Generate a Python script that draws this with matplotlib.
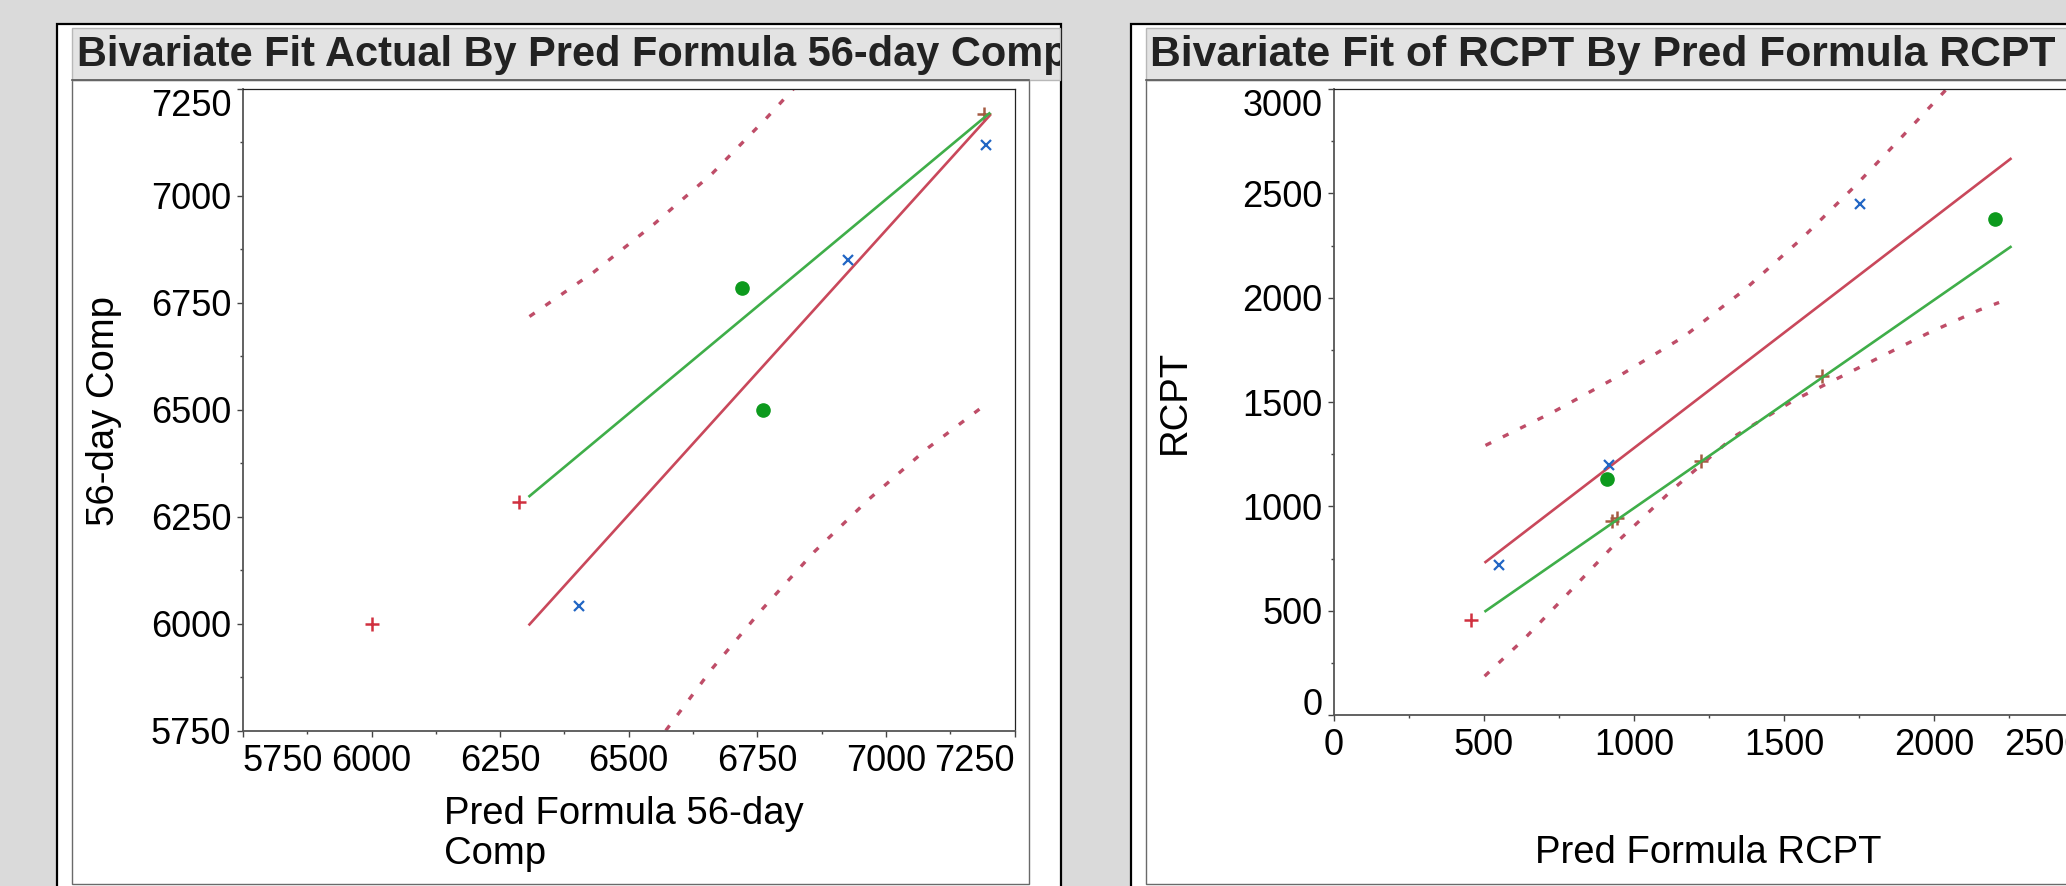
import matplotlib
matplotlib.use("Agg")
import matplotlib.pyplot as plt
from matplotlib.patches import Rectangle
from matplotlib.ticker import MultipleLocator

plt.rcParams["font.family"] = ["Liberation Sans", "DejaVu Sans"]

# ---- data ----
# left panel: 56-day Comp
comp_title = "Bivariate Fit Actual By Pred Formula 56-day Comp"
comp_ticks = [5750, 6000, 6250, 6500, 6750, 7000, 7250]
comp_plus_red_x = [6000, 6287]
comp_plus_red_y = [6000, 6285]
comp_plus_brown_x = [7190]
comp_plus_brown_y = [7192]
comp_cross_x = [6403, 6927, 7195]
comp_cross_y = [6040, 6850, 7119]
comp_dot_x = [6720, 6761]
comp_dot_y = [6785, 6499]
comp_diag_x = [6307, 7201]
comp_diag_y = [6298, 7193]
comp_fit_x = [6307, 7201]
comp_fit_y = [5998, 7187]
comp_upper_x = [6307, 6431, 6549, 6662, 6767, 6820]
comp_upper_y = [6718, 6821, 6934, 7052, 7181, 7250]
comp_lower_x = [6572, 6663, 6759, 6860, 6967, 7081, 7199]
comp_lower_y = [5750, 5896, 6033, 6167, 6291, 6410, 6517]

# right panel: RCPT
rcpt_title = "Bivariate Fit of RCPT By Pred Formula RCPT"
rcpt_xticks = [0, 500, 1000, 1500, 2000, 2500]
rcpt_yticks = [0, 500, 1000, 1500, 2000, 2500, 3000]
rcpt_plus_red_x = [456]
rcpt_plus_red_y = [455]
rcpt_plus_brown_x = [927, 944, 1222, 1625]
rcpt_plus_brown_y = [931, 942, 1219, 1624]
rcpt_cross_x = [549, 916, 1754]
rcpt_cross_y = [719, 1198, 2448]
rcpt_dot_x = [910, 2204]
rcpt_dot_y = [1129, 2377]
rcpt_diag_x = [505, 2255]
rcpt_diag_y = [498, 2243]
rcpt_fit_x = [505, 2255]
rcpt_fit_y = [733, 2665]
rcpt_upper_x = [505, 732, 955, 1166, 1367, 1556, 1734, 1867, 2034, 2042]
rcpt_upper_y = [1292, 1453, 1629, 1813, 2036, 2279, 2531, 2731, 2987, 3000]
rcpt_lower_x = [502, 633, 755, 944, 1133, 1333, 1534, 1756, 1979, 2151, 2217]
rcpt_lower_y = [186, 363, 545, 830, 1086, 1334, 1509, 1669, 1829, 1941, 1977]

# ---- styles ----
W, H = 2066, 886
RED = "#c9485b"
BAND = "#bf4d68"
GREEN = "#3fae49"
DOT = "#0d9a1d"
BLUE = "#2166c4"
PLUS_RED = "#d0303f"
PLUS_BROWN = "#a55a42"
FS = 27.5
TFS = 26

fig = plt.figure(figsize=(W / 100, H / 100), dpi=100, facecolor="#dadada")

# background "report" boxes drawn in pixel coordinates
bg = fig.add_axes([0, 0, 1, 1])
bg.set_xlim(0, W)
bg.set_ylim(H, 0)
bg.axis("off")


def rect(x0, y0, x1, y1, fc, ec, lw):
    r = Rectangle((x0, y0), x1 - x0, y1 - y0, fc=fc, ec=ec, lw=lw)
    bg.add_patch(r)
    return r


rect(57, 24, 1061, 950, "white", "black", 1.6)
rect(1131, 24, 2200, 950, "white", "black", 1.6)
rect(72, 80, 1029, 884, "white", "#6a6a6a", 1.0)
rect(1146, 80, 2200, 884, "white", "#6a6a6a", 1.0)
tl = rect(72, 28, 1060, 80, "#e3e3e3", "#b8b8b8", 1.0)
tr = rect(1146, 28, 2200, 80, "#e3e3e3", "#b8b8b8", 1.0)
bg.plot([72, 1029], [80, 80], color="#555555", lw=1.2)
bg.plot([1146, 2200], [80, 80], color="#555555", lw=1.2)

t = bg.text(77, 55, comp_title, fontsize=29.9, fontweight="bold", color="#222222",
            va="center", ha="left", clip_on=True)
t.set_clip_path(tl)
t = bg.text(1150, 55, rcpt_title, fontsize=30.7, fontweight="bold", color="#222222",
            va="center", ha="left", clip_on=True)
t.set_clip_path(tr)

bg.text(104, 411, "56-day Comp", fontsize=FS, rotation=90, ha="center", va="center")
bg.text(1175, 402, "RCPT", fontsize=FS, rotation=90, ha="center", va="center")
bg.text(624, 834, "Pred Formula 56-day\nComp", fontsize=FS, ha="center", va="center",
        multialignment="left", linespacing=1.12)
bg.text(1708, 853, "Pred Formula RCPT", fontsize=FS, ha="center", va="center")


def add_ax(x0, y0, x1, y1):
    return fig.add_axes([x0 / W, 1 - y1 / H, (x1 - x0) / W, (y1 - y0) / H])


def style(ax):
    for s in ["left", "bottom"]:
        ax.spines[s].set_color("#555555")
        ax.spines[s].set_linewidth(1.3)
    for s in ["top", "right"]:
        ax.spines[s].set_color("#222222")
        ax.spines[s].set_linewidth(0.9)
    ax.tick_params(which="major", direction="out", length=4.5, width=1, color="#444444",
                   labelsize=TFS)
    ax.tick_params(which="minor", direction="out", length=2.4, width=1, color="#444444")
    ax.tick_params(axis="x", pad=5)
    ax.tick_params(axis="y", pad=4)


def draw(ax, px_r, py_r, px_b, py_b, cx, cy, dx, dy, gx, gy, fx, fy, ux, uy, lx, ly):
    ax.plot(px_r, py_r, ls="none", marker="+", ms=9.5, mew=1.8, color=PLUS_RED, zorder=1.5)
    ax.plot(px_b, py_b, ls="none", marker="+", ms=9.5, mew=1.8, color=PLUS_BROWN, zorder=1.5)
    ax.plot(ux, uy, color=BAND, lw=2.4, ls=(0, (1.9, 3.9)), zorder=2)
    ax.plot(lx, ly, color=BAND, lw=2.4, ls=(0, (1.9, 3.9)), zorder=2)
    ax.plot(gx, gy, color=GREEN, lw=1.9, zorder=2.2)
    ax.plot(fx, fy, color=RED, lw=1.9, zorder=2.1)
    ax.plot(cx, cy, ls="none", marker="x", ms=7.5, mew=1.6, color=BLUE, zorder=3)
    ax.plot(dx, dy, ls="none", marker="o", ms=9.5, color=DOT, mec=DOT, zorder=3)


ax1 = add_ax(243, 89, 1014.5, 730.5)
style(ax1)
draw(ax1, comp_plus_red_x, comp_plus_red_y, comp_plus_brown_x, comp_plus_brown_y,
     comp_cross_x, comp_cross_y, comp_dot_x, comp_dot_y, comp_diag_x, comp_diag_y,
     comp_fit_x, comp_fit_y, comp_upper_x, comp_upper_y, comp_lower_x, comp_lower_y)
ax1.set_xlim(comp_ticks[0], comp_ticks[-1])
ax1.set_ylim(comp_ticks[0], comp_ticks[-1])
ax1.set_xticks(comp_ticks)
ax1.set_yticks(comp_ticks)
ax1.xaxis.set_minor_locator(MultipleLocator(125))
ax1.yaxis.set_minor_locator(MultipleLocator(125))
xl = ax1.get_xticklabels()
xl[0].set_ha("left")
xl[-1].set_ha("right")
ax1.get_yticklabels()[-1].set_va("top")

ax2 = add_ax(1334, 89, 2084, 715)
style(ax2)
draw(ax2, rcpt_plus_red_x, rcpt_plus_red_y, rcpt_plus_brown_x, rcpt_plus_brown_y,
     rcpt_cross_x, rcpt_cross_y, rcpt_dot_x, rcpt_dot_y, rcpt_diag_x, rcpt_diag_y,
     rcpt_fit_x, rcpt_fit_y, rcpt_upper_x, rcpt_upper_y, rcpt_lower_x, rcpt_lower_y)
ax2.set_xlim(rcpt_xticks[0], rcpt_xticks[-1])
ax2.set_ylim(rcpt_yticks[0], rcpt_yticks[-1])
ax2.set_xticks(rcpt_xticks)
ax2.set_yticks(rcpt_yticks)
ax2.xaxis.set_minor_locator(MultipleLocator(250))
ax2.yaxis.set_minor_locator(MultipleLocator(250))
ax2.get_xticklabels()[-1].set_ha("right")
yl = ax2.get_yticklabels()
yl[-1].set_va("top")
yl[0].set_va("baseline")

fig.savefig("out.png", dpi=100, facecolor=fig.get_facecolor())
